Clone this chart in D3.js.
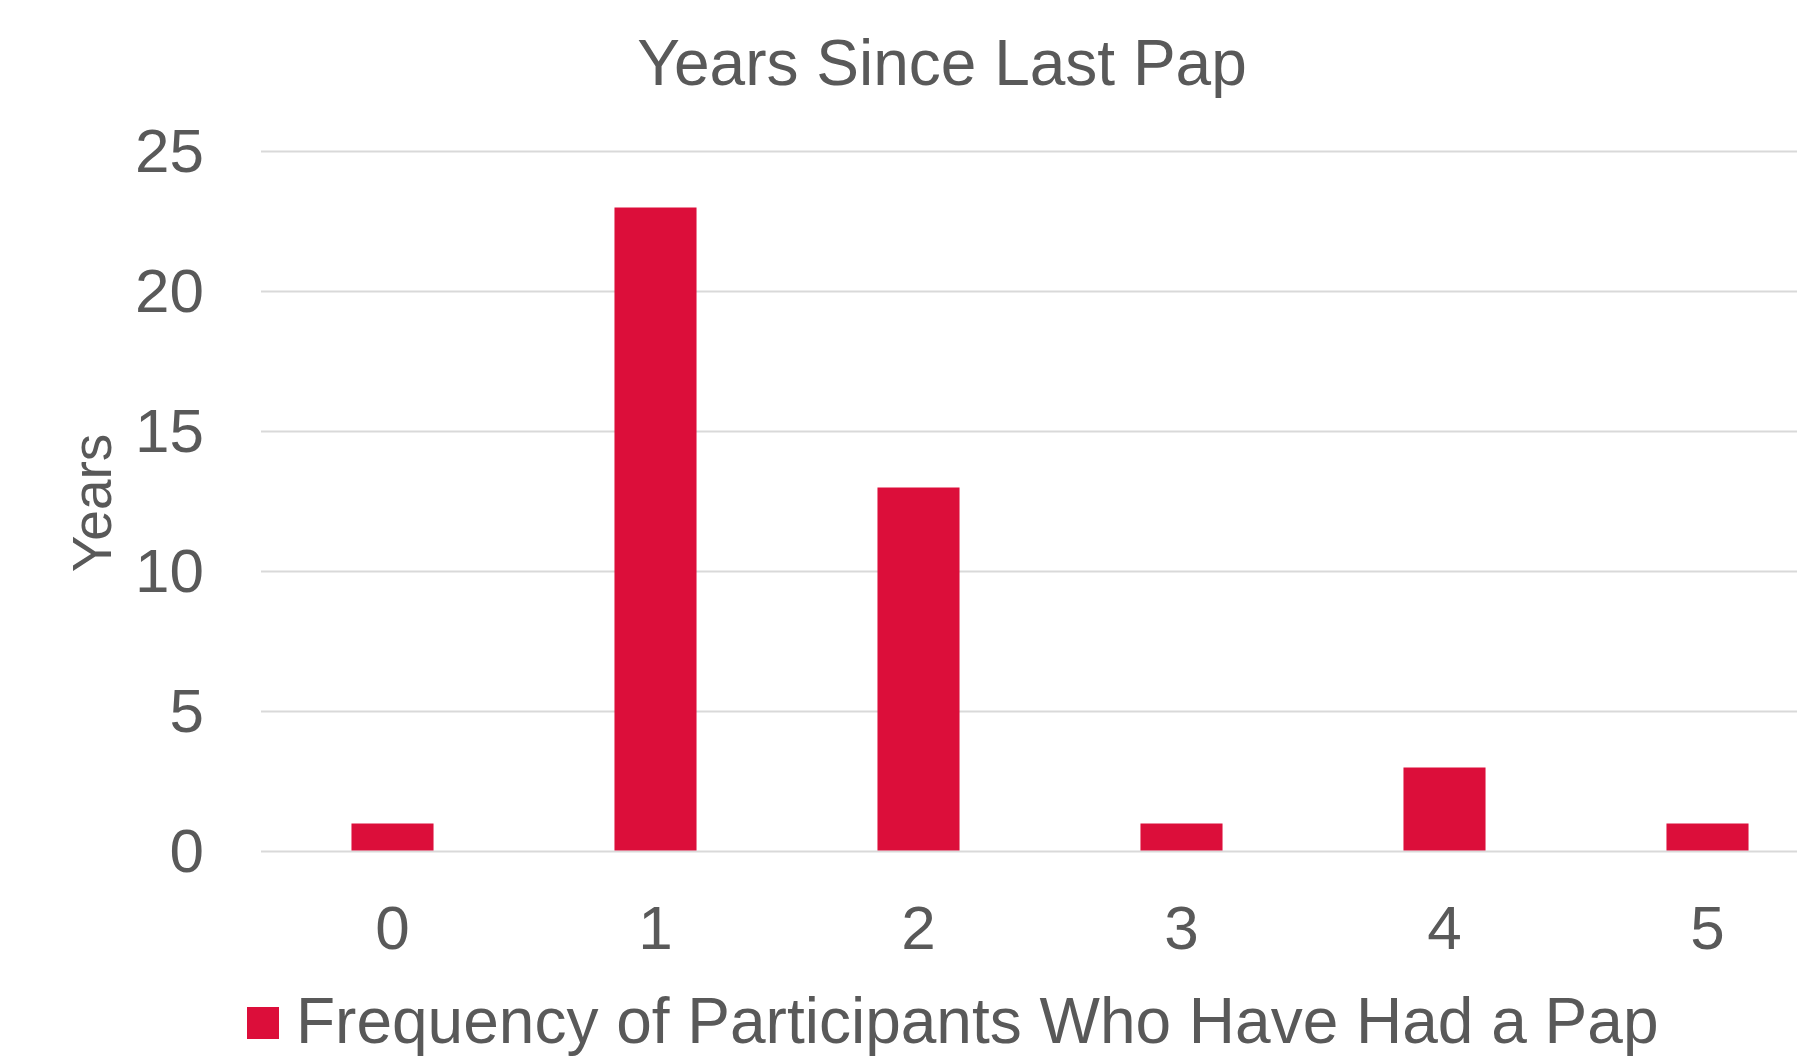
<!DOCTYPE html>
<html>
<head>
<meta charset="utf-8">
<script src="https://cdn.jsdelivr.net/npm/d3@7"></script>
<style>
  body { margin: 0; background: #fff; }
  svg { display: block; font-family: "Liberation Sans", Arial, sans-serif; }
</style>
</head>
<body>
<div id="chart"></div>
<script>
// data
const categories = ["0", "1", "2", "3", "4", "5"];
const frequency = [1, 23, 13, 1, 3, 1];
const yTicks = [0, 5, 10, 15, 20, 25];
const seriesName = "Frequency of Participants Who Have Had a Pap";

const W = 1797, H = 1061;
const grey = "#595959";
const red = "#DC0E3A";

const svg = d3.select("#chart").append("svg")
    .attr("width", W)
    .attr("height", H);

// plot area runs past the right edge, like the original
let x = d3.scaleBand()
    .domain(categories)
    .range([261, 1839])
    .paddingInner(0.688)
    .paddingOuter(0.344);

let y = d3.scaleLinear()
    .domain([0, 25])
    .range([851.5, 151.5]);

// gridlines
svg.append("g")
    .selectAll("line")
    .data(yTicks)
    .enter()
    .append("line")
    .attr("x1", 261)
    .attr("x2", W)
    .attr("y1", d => y(d))
    .attr("y2", d => y(d))
    .attr("stroke", "#d9d9d9")
    .attr("stroke-width", 2);

// bars
svg.append("g")
    .selectAll("rect")
    .data(frequency)
    .enter()
    .append("rect")
    .attr("x", (d, i) => x(categories[i]))
    .attr("width", x.bandwidth())
    .attr("y", d => y(d))
    .attr("height", d => y(0) - y(d) - 1)
    .attr("fill", red);

// y axis labels
let yAxis = svg.append("g")
    .attr("transform", "translate(204,0)")
    .call(d3.axisLeft(y).tickValues(yTicks).tickSize(0).tickPadding(0));
yAxis.select(".domain").remove();
yAxis.selectAll("text")
    .attr("fill", grey)
    .attr("font-size", 62)
    .attr("font-family", "Liberation Sans, Arial, sans-serif");

// x axis labels
let xAxis = svg.append("g")
    .attr("transform", "translate(0,851.5)")
    .call(d3.axisBottom(x).tickSize(0).tickPadding(0));
xAxis.select(".domain").remove();
xAxis.selectAll("text")
    .attr("fill", grey)
    .attr("font-size", 62)
    .attr("font-family", "Liberation Sans, Arial, sans-serif")
    .attr("dy", null)
    .attr("y", 97);

// title
svg.append("text")
    .attr("x", 942)
    .attr("y", 85)
    .attr("text-anchor", "middle")
    .attr("fill", grey)
    .attr("font-size", 64)
    .text("Years Since Last Pap");

// y axis title
svg.append("text")
    .attr("transform", "translate(111,503) rotate(-90)")
    .attr("text-anchor", "middle")
    .attr("fill", grey)
    .attr("font-size", 55)
    .text("Years");

// legend
let legend = svg.append("g");
legend.append("rect")
    .attr("x", 247)
    .attr("y", 1007)
    .attr("width", 32)
    .attr("height", 32)
    .attr("fill", red);
legend.append("text")
    .attr("x", 296)
    .attr("y", 1043)
    .attr("fill", grey)
    .attr("font-size", 64)
    .text(seriesName);
</script>
</body>
</html>
